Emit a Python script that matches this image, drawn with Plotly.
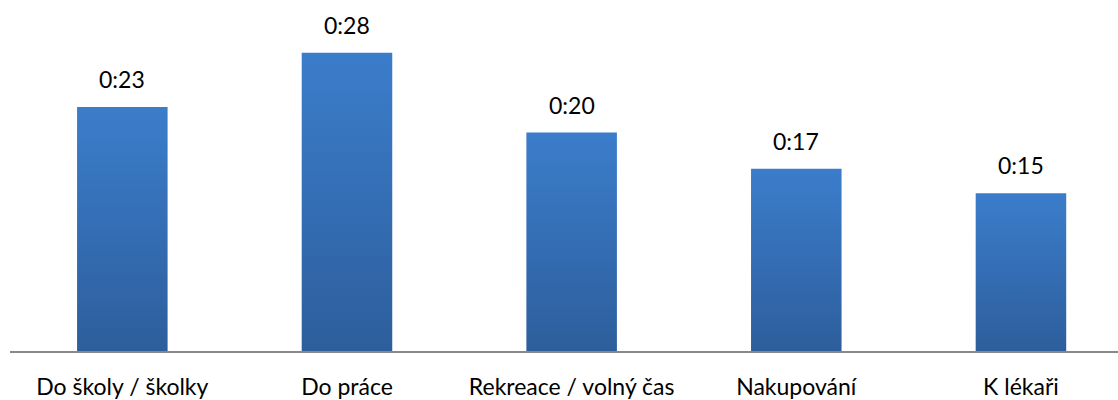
import plotly.graph_objects as go

categories = ["Do školy / školky", "Do práce", "Rekreace / volný čas", "Nakupování", "K lékaři"]
minutes = [22.9, 28.0, 20.5, 17.1, 14.8]
labels = ["0:23", "0:28", "0:20", "0:17", "0:15"]

BAR_W = 0.403
FONT = "Lato"
TOP_C = "#3B7DCB"
BOT_C = "#2D5E9C"

fig = go.Figure()
for i, v in enumerate(minutes):
    x0, x1 = i - BAR_W / 2, i + BAR_W / 2
    fig.add_trace(go.Scatter(
        x=[x0, x1, x1, x0, x0], y=[0, 0, v, v, 0],
        mode="lines", line=dict(width=0), fill="toself",
        fillgradient=dict(type="vertical", colorscale=[[0, BOT_C], [1, TOP_C]]),
        hoverinfo="skip", showlegend=False))

for i, (v, t) in enumerate(zip(minutes, labels)):
    fig.add_annotation(x=i, y=v, text=t, showarrow=False, yanchor="bottom",
                       yshift=12, font=dict(family=FONT, size=23, color="#000000"))

fig.update_layout(
    width=1118, height=400,
    margin=dict(l=10, r=0, t=0, b=44),
    plot_bgcolor="white", paper_bgcolor="white",
    xaxis=dict(range=[-0.5, 4.432], tickvals=list(range(len(categories))), ticktext=categories,
               showgrid=False, zeroline=False, showline=True, linecolor="#898989", linewidth=2,
               ticks="", tickfont=dict(family=FONT, size=23, color="#000000"),
               ticklabelstandoff=14),
    yaxis=dict(range=[0, 32.95], visible=False, showgrid=False, zeroline=False),
)
fig.write_html("out.html", config={"displayModeBar": False},
               post_script="document.body.style.margin='0';document.body.style.overflow='hidden';")
